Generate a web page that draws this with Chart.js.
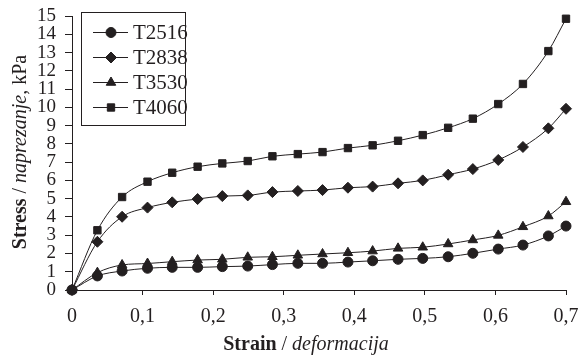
<!DOCTYPE html>
<html>
<head>
<meta charset="utf-8">
<script src="https://cdn.jsdelivr.net/npm/chart.js@4.4.1/dist/chart.umd.min.js"></script>
<style>
  html, body { margin: 0; padding: 0; background: #fff; }
  #wrap { width: 583px; height: 360px; }
</style>
</head>
<body>
<div id="wrap"><canvas id="mainChart" width="583" height="360"></canvas></div>
<script>
// values
const strain = [0, 0.036, 0.071, 0.107, 0.142, 0.178, 0.213, 0.249, 0.284, 0.320, 0.355,
    0.391, 0.426, 0.462, 0.497, 0.533, 0.568, 0.604, 0.639, 0.675, 0.700];
const t2516 = [0, 0.77, 1.04, 1.19, 1.24, 1.24, 1.28, 1.31, 1.39, 1.46, 1.46,
    1.53, 1.60, 1.68, 1.73, 1.82, 2.01, 2.24, 2.46, 2.96, 3.50];
const t2838 = [0, 2.64, 4.01, 4.51, 4.80, 4.98, 5.14, 5.18, 5.36, 5.42, 5.47,
    5.60, 5.66, 5.84, 6.00, 6.31, 6.62, 7.12, 7.83, 8.85, 9.92];
const t3530 = [0, 0.95, 1.37, 1.45, 1.55, 1.64, 1.68, 1.79, 1.82, 1.90, 1.97,
    2.04, 2.13, 2.28, 2.34, 2.52, 2.74, 2.99, 3.46, 4.05, 4.83];
const t4060 = [0, 3.27, 5.09, 5.93, 6.42, 6.75, 6.93, 7.06, 7.32, 7.44, 7.55,
    7.77, 7.92, 8.17, 8.48, 8.88, 9.38, 10.18, 11.28, 13.08, 14.85];

const seriesNames = ['T2516', 'T2838', 'T3530', 'T4060'];
const seriesValues = [t2516, t2838, t3530, t4060];
const pointStyles = ['circle', 'rectRot', 'triangle', 'rect'];
const pointSizes = [5, 5.5, 5.5, 5.2];

const xTicks = [0, 0.1, 0.2, 0.3, 0.4, 0.5, 0.6, 0.7];
const xTickLabels = ['0', '0,1', '0,2', '0,3', '0,4', '0,5', '0,6', '0,7'];
const yTicks = [0, 1, 2, 3, 4, 5, 6, 7, 8, 9, 10, 11, 12, 13, 14, 15];

const ink = '#231f20';
const serif = '"Liberation Serif", "Times New Roman", serif';

// legend box and the mixed-style axis titles
const paperText = {
    id: 'paperText',
    afterDraw(chart) {
        const ctx = chart.ctx;
        ctx.save();
        ctx.strokeStyle = ink;
        ctx.fillStyle = ink;
        ctx.lineWidth = 1;

        // Legend
        ctx.strokeRect(81.5, 12.5, 104, 113);
        seriesNames.forEach((name, i) => {
            const y = 32 + i * 25;
            ctx.beginPath();
            ctx.moveTo(93, y + 0.5);
            ctx.lineTo(128, y + 0.5);
            ctx.stroke();
            Chart.helpers.drawPoint(ctx, {
                pointStyle: pointStyles[i], rotation: 0,
                radius: pointSizes[i], borderWidth: 1
            }, 111, y + 0.5);
            ctx.font = '21px ' + serif;
            ctx.textAlign = 'left';
            ctx.textBaseline = 'middle';
            ctx.fillText(name, 133, y + 1);
        });

        // X title
        drawRich(ctx, [
            { text: 'Strain', font: 'bold 20px ' + serif },
            { text: ' / ', font: '20px ' + serif },
            { text: 'deformacija', font: 'italic 20px ' + serif }
        ], 306, 345);

        // Y title
        ctx.translate(21, 152);
        ctx.rotate(-Math.PI / 2);
        drawRich(ctx, [
            { text: 'Stress', font: 'bold 20px ' + serif },
            { text: ' / ', font: '20px ' + serif },
            { text: 'naprezanje,', font: 'italic 20px ' + serif },
            { text: ' kPa', font: '20px ' + serif }
        ], 0, 0);
        ctx.restore();
    }
};

function drawRich(ctx, parts, cx, cy) {
    let total = 0;
    parts.forEach(p => {
        ctx.font = p.font;
        p.w = ctx.measureText(p.text).width;
        total += p.w;
    });
    let x = cx - total / 2;
    ctx.textAlign = 'left';
    ctx.textBaseline = 'middle';
    parts.forEach(p => {
        ctx.font = p.font;
        ctx.fillText(p.text, x, cy);
        x += p.w;
    });
}

const datasets = seriesNames.map((name, i) => ({
    label: name,
    data: strain.map((s, k) => ({ x: s, y: seriesValues[i][k] })),
    borderColor: ink,
    backgroundColor: ink,
    borderWidth: 1,
    pointStyle: pointStyles[i],
    pointRadius: pointSizes[i],
    pointBorderWidth: 1,
    pointBackgroundColor: ink,
    pointBorderColor: ink,
    cubicInterpolationMode: 'monotone',
    clip: false
}));

new Chart(document.getElementById('mainChart'), {
    type: 'line',
    data: { datasets: datasets },
    options: {
        responsive: false,
        animation: false,
        devicePixelRatio: 1,
        layout: { padding: { top: 16, right: 17, left: 0, bottom: 0 } },
        plugins: {
            legend: { display: false },
            tooltip: { enabled: false }
        },
        scales: {
            x: {
                type: 'linear',
                min: 0,
                max: 0.7,
                afterBuildTicks: s => { s.ticks = xTicks.map(v => ({ value: v })); },
                afterFit: s => { s.height = 70; s.paddingLeft = 0; s.paddingRight = 0; },
                ticks: {
                    callback: (v, i) => xTickLabels[i],
                    color: ink,
                    font: { family: serif, size: 20 },
                    padding: 10,
                    maxRotation: 0,
                    autoSkip: false
                },
                grid: {
                    drawOnChartArea: false,
                    drawTicks: true,
                    tickLength: 5,
                    color: ink,
                    tickColor: ink
                },
                border: { display: true, color: ink, width: 1 }
            },
            y: {
                type: 'linear',
                min: 0,
                max: 15,
                afterBuildTicks: s => { s.ticks = yTicks.map(v => ({ value: v })); },
                afterFit: s => { s.width = 72; s.paddingTop = 0; s.paddingBottom = 0; },
                ticks: {
                    color: ink,
                    font: { family: serif, size: 19 },
                    padding: 9,
                    autoSkip: false
                },
                grid: {
                    drawOnChartArea: false,
                    drawTicks: true,
                    tickLength: 7,
                    color: ink,
                    tickColor: ink
                },
                border: { display: true, color: ink, width: 1 }
            }
        }
    },
    plugins: [paperText]
});
</script>
</body>
</html>
